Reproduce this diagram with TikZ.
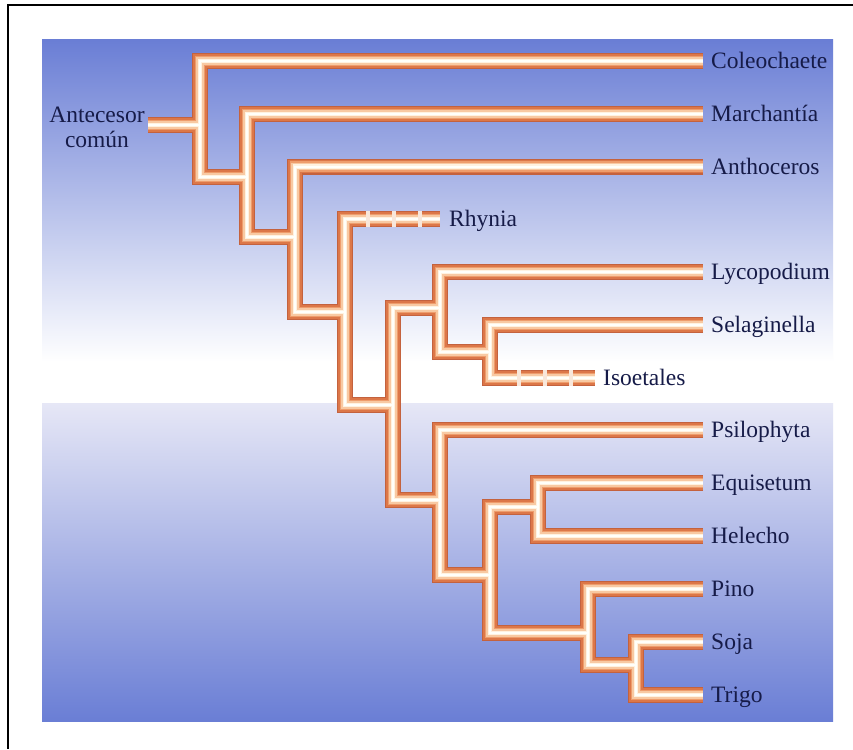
\documentclass[tikz,border=0pt]{standalone}
\usepackage{fontspec}
\setmainfont{Liberation Serif}
\definecolor{bgtop}{HTML}{6A7ED5}
\definecolor{bglow}{HTML}{E6E7F6}
\definecolor{txtc}{HTML}{161B48}
\definecolor{tubeA}{HTML}{C4623E}
\definecolor{tubeB}{HTML}{DC7748}
\definecolor{tubeC}{HTML}{EE9D6C}
\definecolor{tubeD}{HTML}{F8C9A2}
\definecolor{tubeE}{HTML}{FFF2E0}
\definecolor{tubeF}{HTML}{FFFFFA}
\definecolor{gapc}{HTML}{F8E7DA}
\begin{document}
\begin{tikzpicture}[x=1pt,y=-1pt, line join=miter, line cap=butt,
  lab/.style={anchor=base west, text=txtc, font=\fontsize{23.5}{25}\selectfont, inner sep=0pt}]
\useasboundingbox (0,0) rectangle (853,749);
\fill[white] (0,0) rectangle (853,749);
% background panel
\shade[top color=bgtop, bottom color=white] (42,40) rectangle (833,362);
\fill[white] (42,362) rectangle (833,403);
\shade[top color=bglow, bottom color=bgtop] (42,403) rectangle (833,721);
% frame
\draw[line width=2pt] (853,5) -- (7.5,5) -- (7.5,749);
% coordinates of the tree
\coordinate (root) at (148,125);
\coordinate (n1) at (200,125);
\coordinate (n2) at (247,177);
\coordinate (n3) at (295,237);
\coordinate (n4) at (345,312);
\coordinate (n5) at (393,405);
\coordinate (n6) at (440,308);
\coordinate (n7) at (490,352);
\coordinate (n8) at (440,500);
\coordinate (n9) at (490,575);
\coordinate (n10) at (538,507);
\coordinate (n11) at (588,633);
\coordinate (n12) at (636,665);
\coordinate (eCol) at (703,61);
\coordinate (eMar) at (703,114);
\coordinate (eAnt) at (703,166.5);
\coordinate (rhyS) at (366,219);
\coordinate (eRhy) at (440,219);
\coordinate (eLyc) at (703,272);
\coordinate (eSel) at (703,325);
\coordinate (isoS) at (517,378);
\coordinate (eIso) at (595,378);
\coordinate (ePsi) at (703,430);
\coordinate (eEqu) at (703,483);
\coordinate (eHel) at (703,536);
\coordinate (ePin) at (703,589);
\coordinate (eSoj) at (703,642);
\coordinate (eTri) at (703,695);
% labels
\node[align=center, text=txtc, font=\fontsize{23.5}{25}\selectfont, inner sep=0pt] (anc) at (97,127) {Antecesor\\común};
\node[lab] (lCol) at (711,68.5) {Coleochaete};
\node[lab] (lMar) at (711,121.5) {Marchantía};
\node[lab] (lAnt) at (711,174) {Anthoceros};
\node[lab] (lRhy) at (449,226.5) {Rhynia};
\node[lab] (lLyc) at (711,279.5) {Lycopodium};
\node[lab] (lSel) at (711,332.5) {Selaginella};
\node[lab] (lIso) at (603,385.5) {Isoetales};
\node[lab] (lPsi) at (711,437.5) {Psilophyta};
\node[lab] (lEqu) at (711,490.5) {Equisetum};
\node[lab] (lHel) at (711,543.5) {Helecho};
\node[lab] (lPin) at (711,596.5) {Pino};
\node[lab] (lSoj) at (711,649.5) {Soja};
\node[lab] (lTri) at (711,702.5) {Trigo};
% pale underlay of the dashed branches
\draw[line width=16pt, draw=gapc] (rhyS) -- (eRhy) (isoS) -- (eIso);
% tubes, drawn in layers
\foreach \w/\c in {16/tubeA,13.5/tubeB,10.5/tubeC,7.5/tubeD,4.5/tubeE,2/tubeF}{
  \draw[line width=\w pt, draw=\c]
    (root) -- (n1)
    (eCol) -| (n1) |- (n2)
    (eMar) -| (n2) |- (n3)
    (eAnt) -| (n3) |- (n4)
    (rhyS) -| (n4) |- (n5)
    (n6) -| (n5) |- (n8)
    (eLyc) -| (n6) |- (n7)
    (eSel) -| (n7) |- (isoS)
    (ePsi) -| (n8) |- (n9)
    (n10) -| (n9) |- (n11)
    (eEqu) -| (n10) |- (eHel)
    (ePin) -| (n11) |- (n12)
    (eSoj) -| (n12) |- (eTri);
  \draw[line width=\w pt, draw=\c, dash pattern=on 22pt off 4pt, dash phase=22pt]
    (rhyS) -- (eRhy) (isoS) -- (eIso);
}
\end{tikzpicture}
\end{document}
